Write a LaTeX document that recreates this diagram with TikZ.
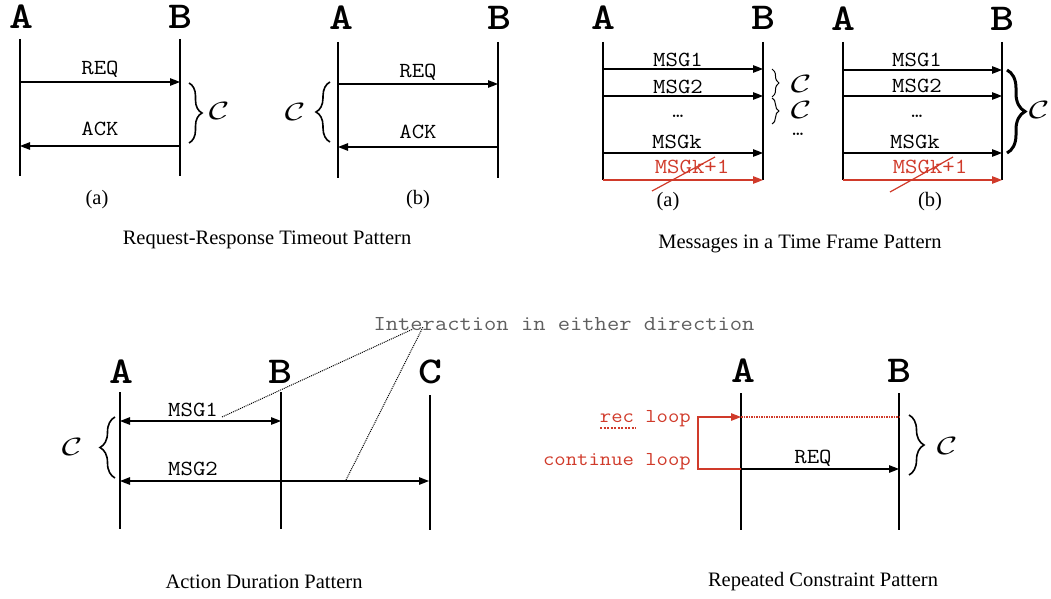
\RequirePackage{fix-cm}
\documentclass[tikz,border=0pt]{standalone}
\usepackage{fontspec}
\usepackage{graphicx}
\setmainfont{Liberation Serif}
\usetikzlibrary{arrows.meta,decorations.pathreplacing}
\definecolor{lred}{RGB}{208,58,42}
\definecolor{igray}{RGB}{95,95,95}
\newcommand\wdtxt[1]{\scalebox{1.12}[1]{#1}}
\newcommand\wdbig[1]{\scalebox{1.2}[1]{#1}}
\newcommand\ccal{\scalebox{1.4}[1]{$\mathcal{C}$}}
\tikzset{
 party/.style={font=\ttfamily\bfseries\fontsize{38}{38}\selectfont, inner sep=0pt},
 mlabel/.style={font=\ttfamily\fontsize{21.5}{21.5}\selectfont\addfontfeature{FakeBold=0.7}, inner sep=0pt},
 rlabel/.style={mlabel, text=lred},
 loopl/.style={font=\ttfamily\fontsize{19.7}{19.7}\selectfont\addfontfeature{FakeBold=0.7}, inner sep=0pt, text=lred, anchor=east},
 capt/.style={font=\fontsize{20.5}{20.5}\selectfont, inner sep=0pt},
 life/.style={line width=1.5pt},
 msg/.style={line width=1.3pt, -{Triangle[length=10pt,width=7.5pt]}},
 rmsg/.style={msg, draw=lred, -{Triangle[length=10pt,width=7.5pt,fill=lred]}},
 dmsg/.style={line width=1.3pt, {Triangle[length=10pt,width=7.5pt]}-{Triangle[length=10pt,width=7.5pt]}},
 cbrace/.style={decorate, decoration={brace, amplitude=#1}, line width=1.6pt},
 cnote/.style={inner sep=0pt, font=\fontsize{25}{25}\selectfont},
 strike/.style={draw=lred, line width=1.2pt},
 hint/.style={line width=1pt, dash pattern=on 1pt off 1pt},
}
\begin{document}
\begin{tikzpicture}[x=1pt,y=-1pt]
\useasboundingbox (0,0) rectangle (1051,599);

% ---------- Panel 1a ----------
\node[party] (A1) at (21,17) {\wdbig{A}};
\node[party] (B1) at (180,17) {\wdbig{B}};
\coordinate (A1t) at (20,39); \coordinate (A1b) at (20,176);
\coordinate (B1t) at (180,39); \coordinate (B1b) at (180,176);
\draw[life] (A1t) -- (A1b);
\draw[life] (B1t) -- (B1b);
\coordinate (A1m1) at (20,82); \coordinate (B1m1) at (180,82);
\coordinate (A1m2) at (20,146); \coordinate (B1m2) at (180,146);
\draw[msg] (A1m1) -- (B1m1);
\draw[msg] (B1m2) -- (A1m2);
\node[mlabel] (req1) at (100,69) {\wdtxt{REQ}};
\node[mlabel] (ack1) at (100,129) {\wdtxt{ACK}};
\coordinate (br1t) at (189,83); \coordinate (br1b) at (189,143);
\draw[cbrace=13pt] (br1t) -- (br1b);
\node[cnote] (c1) at (219,111) {\ccal};
\node[capt] (sa1) at (97,200) {(a)};

% ---------- Panel 1b ----------
\node[party] (A2) at (341,18) {\wdbig{A}};
\node[party] (B2) at (499,18) {\wdbig{B}};
\coordinate (A2t) at (338,42); \coordinate (A2b) at (338,178);
\coordinate (B2t) at (498,42); \coordinate (B2b) at (498,178);
\draw[life] (A2t) -- (A2b);
\draw[life] (B2t) -- (B2b);
\coordinate (A2m1) at (338,84); \coordinate (B2m1) at (498,84);
\coordinate (A2m2) at (338,147); \coordinate (B2m2) at (498,147);
\draw[msg] (A2m1) -- (B2m1);
\draw[msg] (B2m2) -- (A2m2);
\node[mlabel] (req2) at (418,72) {\wdtxt{REQ}};
\node[mlabel] (ack2) at (418,132) {\wdtxt{ACK}};
\coordinate (br2b) at (330,142); \coordinate (br2t) at (330,82);
\draw[cbrace=14pt] (br2b) -- (br2t);
\node[cnote] (c2) at (295,112) {\ccal};
\node[capt] (sb1) at (418,200) {(b)};

\node[capt] (cap1) at (267,240) {Request-Response Timeout Pattern};

% ---------- Panel 2a ----------
\node[party] (A3) at (603,18) {\wdbig{A}};
\node[party] (B3) at (763,18) {\wdbig{B}};
\coordinate (A3t) at (603,42); \coordinate (A3b) at (603,180);
\coordinate (B3t) at (763,42); \coordinate (B3b) at (763,180);
\draw[life] (A3t) -- (A3b);
\draw[life] (B3t) -- (B3b);
\coordinate (A3m1) at (603,69);  \coordinate (B3m1) at (763,69);
\coordinate (A3m2) at (603,96);  \coordinate (B3m2) at (763,96);
\coordinate (A3mk) at (603,153); \coordinate (B3mk) at (763,153);
\coordinate (A3mx) at (603,180); \coordinate (B3mx) at (763,180);
\draw[msg] (A3m1) -- (B3m1);
\draw[msg] (A3m2) -- (B3m2);
\draw[msg] (A3mk) -- (B3mk);
\draw[rmsg] (A3mx) -- (B3mx);
\node[mlabel] (m31) at (678,60) {\wdtxt{MSG1}};
\node[mlabel] (m32) at (678,87) {\wdtxt{MSG2}};
\node[mlabel] (m3d) at (678,116) {…};
\node[mlabel] (m3k) at (677,142) {\wdtxt{MSGk}};
\node[rlabel] (m3x) at (692,167) {\wdtxt{MSGk+1}};
\coordinate (s3a) at (652,191); \coordinate (s3b) at (715,157);
\draw[strike] (s3a) -- (s3b);
\coordinate (br3a) at (772,69); \coordinate (br3b) at (772,97);
\coordinate (br3c) at (772,98); \coordinate (br3d) at (772,124);
\draw[cbrace=7pt, line width=1pt] (br3a) -- (br3b);
\draw[cbrace=7pt, line width=1pt] (br3c) -- (br3d);
\node[cnote] (c3a) at (801,84) {\ccal};
\node[cnote] (c3b) at (801,110) {\ccal};
\node[mlabel] (d3) at (798,134) {…};
\node[capt] (sa2) at (668,202) {(a)};

% ---------- Panel 2b ----------
\node[party] (A4) at (843,19) {\wdbig{A}};
\node[party] (B4) at (1002,19) {\wdbig{B}};
\coordinate (A4t) at (843,42); \coordinate (A4b) at (843,180);
\coordinate (B4t) at (1002,42); \coordinate (B4b) at (1002,180);
\draw[life] (A4t) -- (A4b);
\draw[life] (B4t) -- (B4b);
\coordinate (A4m1) at (843,70);  \coordinate (B4m1) at (1002,70);
\coordinate (A4m2) at (843,96);  \coordinate (B4m2) at (1002,96);
\coordinate (A4mk) at (843,153); \coordinate (B4mk) at (1002,153);
\coordinate (A4mx) at (843,180); \coordinate (B4mx) at (1002,180);
\draw[msg] (A4m1) -- (B4m1);
\draw[msg] (A4m2) -- (B4m2);
\draw[msg] (A4mk) -- (B4mk);
\draw[rmsg] (A4mx) -- (B4mx);
\node[mlabel] (m41) at (917,60) {\wdtxt{MSG1}};
\node[mlabel] (m42) at (917,86) {\wdtxt{MSG2}};
\node[mlabel] (m4d) at (917,116) {…};
\node[mlabel] (m4k) at (915,142) {\wdtxt{MSGk}};
\node[rlabel] (m4x) at (930,167) {\wdtxt{MSGk+1}};
\coordinate (s4a) at (890,192); \coordinate (s4b) at (953,157);
\draw[strike] (s4a) -- (s4b);
\coordinate (br4a) at (1007,70); \coordinate (br4b) at (1007,153);
\draw[cbrace=18pt, line width=3pt] (br4a) -- (br4b);
\node[cnote] (c4) at (1039,110) {\ccal};
\node[capt] (sb2) at (930,202) {(b)};

\node[capt] (cap2) at (800,244) {Messages in a Time Frame Pattern};

% ---------- Panel 3 ----------
\node[party] (A5) at (121,372) {\wdbig{A}};
\node[party] (B5) at (280,372) {\wdbig{B}};
\node[party] (C5) at (430,372) {\wdbig{C}};
\coordinate (A5t) at (120,392); \coordinate (A5b) at (120,529);
\coordinate (B5t) at (281,392); \coordinate (B5b) at (281,529);
\coordinate (C5t) at (430,395); \coordinate (C5b) at (430,530);
\draw[life] (A5t) -- (A5b);
\draw[life] (B5t) -- (B5b);
\draw[life] (C5t) -- (C5b);
\coordinate (A5m1) at (120,421); \coordinate (B5m1) at (281,421);
\coordinate (A5m2) at (120,481); \coordinate (C5m2) at (429,481);
\draw[dmsg] (A5m1) -- (B5m1);
\draw[dmsg] (A5m2) -- (C5m2);
\node[mlabel] (m51) at (193,410) {\wdtxt{MSG1}};
\node[mlabel] (m52) at (193,469) {\wdtxt{MSG2}};
\coordinate (br5b) at (115,478); \coordinate (br5t) at (115,417);
\draw[cbrace=15pt] (br5b) -- (br5t);
\node[cnote] (c5) at (72,447) {\ccal};
\node[inner sep=0pt, font=\ttfamily\fontsize{21.3}{21.3}\selectfont, text=igray] (inter) at (564,324) {\wdtxt{Interaction in either direction}};
\coordinate (h1a) at (222,417); \coordinate (h1b) at (413,329);
\coordinate (h2a) at (346,480); \coordinate (h2b) at (423,327);
\draw[hint] (h1a) -- (h1b);
\draw[hint] (h2a) -- (h2b);
\node[capt] (cap3) at (264,582) {Action Duration Pattern};

% ---------- Panel 4 ----------
\node[party] (A6) at (743,371) {\wdbig{A}};
\node[party] (B6) at (899,371) {\wdbig{B}};
\coordinate (A6t) at (741,393); \coordinate (A6b) at (741,530);
\coordinate (B6t) at (899,393); \coordinate (B6b) at (899,530);
\draw[life] (A6t) -- (A6b);
\draw[life] (B6t) -- (B6b);
\coordinate (A6r) at (741,417); \coordinate (B6r) at (899,417);
\coordinate (A6q) at (741,469); \coordinate (B6q) at (899,469);
\coordinate (L6t) at (698,417); \coordinate (L6b) at (698,469);
\draw[lred, line width=1.4pt, dash pattern=on 1.5pt off 1pt] (A6r) -- (B6r);
\draw[line width=1.3pt, draw=lred, -{Triangle[length=10pt,width=7.5pt,fill=lred]}] (A6q) -- (L6b) -- (L6t) -- (A6r);
\draw[msg] (A6q) -- (B6q);
\node[mlabel] (req6) at (813,458) {\wdtxt{REQ}};
\node[loopl] (rec) at (691,419) {\wdtxt{rec loop}};
\node[loopl] (cont) at (691,462) {\wdtxt{continue loop}};
\coordinate (sq1) at (600,428); \coordinate (sq2) at (636,428);
\draw[lred, line width=2pt, dash pattern=on 2pt off 1.5pt] (sq1) -- (sq2);
\coordinate (br6t) at (909,415); \coordinate (br6b) at (909,475);
\draw[cbrace=15pt] (br6t) -- (br6b);
\node[cnote] (c6) at (947,446) {\ccal};
\node[capt] (cap4) at (823,582) {Repeated Constraint Pattern};
\end{tikzpicture}
\end{document}
